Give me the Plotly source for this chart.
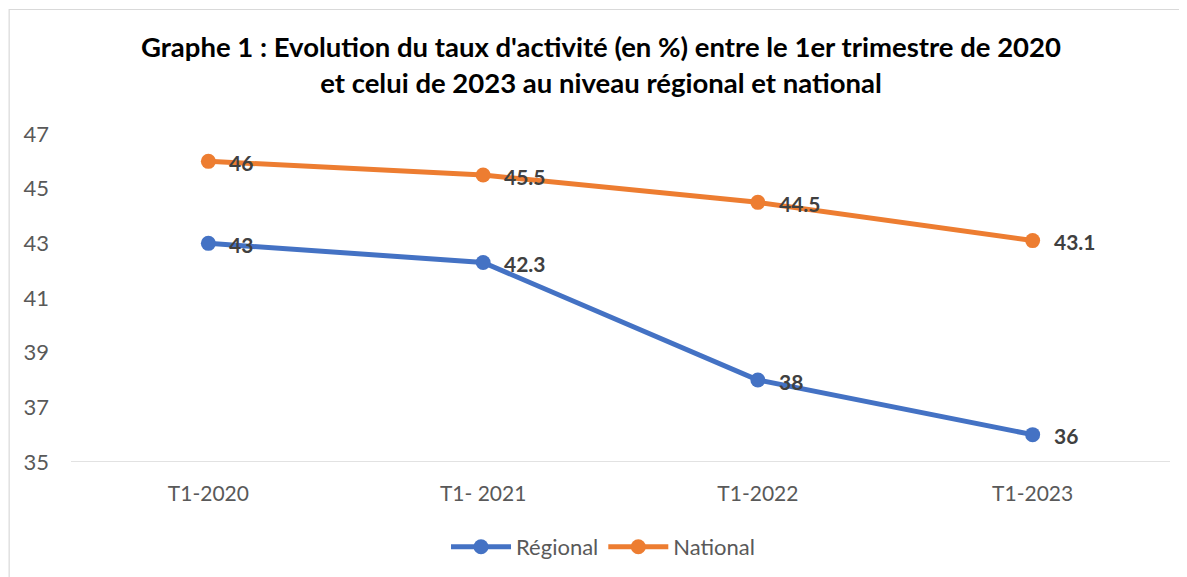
import plotly.graph_objects as go

categories = ["T1-2020", "T1- 2021", "T1-2022", "T1-2023"]
regional = [43, 42.3, 38, 36]
national = [46, 45.5, 44.5, 43.1]
y_ticks = [35, 37, 39, 41, 43, 45, 47]

# page body has an 8px margin: figure pixel = screenshot pixel - 8
OFF = 8
W, H = 1187, 577
L, R, T, B = 70.5 - OFF, W - (1170.5 - OFF), 134 - OFF, H - (462 - OFF)
pw, ph = W - L - R, H - T - B

fig = go.Figure()
series = [("Régional", regional, "#4472C4"), ("National", national, "#ED7D31")]
for name, vals, col in series:
    fig.add_trace(go.Scatter(
        x=list(range(len(categories))), y=vals, name=name, mode="lines+markers",
        line=dict(color=col, width=5), marker=dict(color=col, size=15),
        cliponaxis=False,
    ))
    for i, v in enumerate(vals):
        fig.add_annotation(x=i, y=v, text=f"{v:g}", showarrow=False, xanchor="left",
                           yanchor="middle", xshift=19, yshift=-1,
                           font=dict(family="Lato", size=21, color="#404040", weight="bold"))

fig.update_layout(
    width=W, height=H, margin=dict(l=L, r=R, t=T, b=B),
    paper_bgcolor="white", plot_bgcolor="white",
    title=dict(text="Graphe 1 : Evolution du taux d'activité (en %) entre le 1er trimestre de 2020<br>et celui de 2023 au niveau régional et national",
               x=(601 - OFF) / W, xanchor="center", y=1 - 49 / H, yanchor="middle",
               font=dict(family="Lato", size=27.5, color="#000000", weight="bold")),
    xaxis=dict(range=[-0.5, 3.5], tickvals=list(range(len(categories))), ticktext=categories,
               showgrid=False, zeroline=False, showline=False, ticks="", automargin=False,
               ticklabelstandoff=17,
               tickfont=dict(family="Lato", size=21, color="#595959")),
    yaxis=dict(range=[35, 47], tickvals=y_ticks, showgrid=False, zeroline=False,
               showline=False, ticks="", ticklabelstandoff=21, automargin=False,
               tickfont=dict(family="Lato", size=22, color="#595959")),
    legend=dict(orientation="h", x=(603 - OFF - L) / pw, xanchor="center",
                y=-(547 - 462) / ph, yanchor="middle",
                font=dict(family="Lato", size=22, color="#595959"), itemwidth=60),
    showlegend=True,
)
# baseline
fig.add_shape(type="line", xref="paper", yref="y", x0=0, x1=1, y0=35, y1=35,
              line=dict(color="#D9D9D9", width=1.5))
# chart border (top and left visible)
fig.add_shape(type="rect", xref="paper", yref="paper",
              x0=(0.6 - L) / pw, x1=(W + 5 - L) / pw, y0=-(B + 5) / ph, y1=1 + (T - 1.5) / ph,
              line=dict(color="#D9D9D9", width=1.2), layer="below")

fig.write_html("out.html")
